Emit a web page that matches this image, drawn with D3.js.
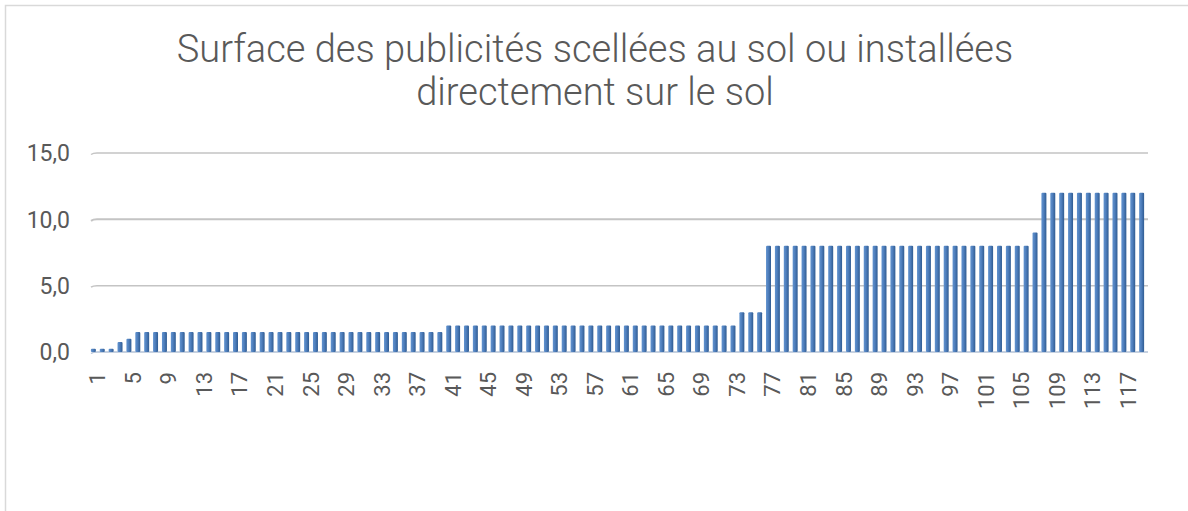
<!doctype html>
<html lang="fr">
<head>
<meta charset="utf-8">
<title>Surface des publicités</title>
<style>
body { margin: 0; background: #fff; font-family: Roboto, "Noto Sans", Arial, sans-serif; }
svg { display: block; }
</style>
</head>
<body>
<svg id="chart" width="1188" height="511"></svg>
<script src="https://cdn.jsdelivr.net/npm/d3@7"></script>
<script>
// one value per panel, sorted by surface (m²)
var values = [
    0.25, 0.25, 0.25, 0.75, 1.0,
    1.5, 1.5, 1.5, 1.5, 1.5, 1.5, 1.5,
    1.5, 1.5, 1.5, 1.5, 1.5, 1.5, 1.5,
    1.5, 1.5, 1.5, 1.5, 1.5, 1.5, 1.5,
    1.5, 1.5, 1.5, 1.5, 1.5, 1.5, 1.5,
    1.5, 1.5, 1.5, 1.5, 1.5, 1.5, 1.5,
    2, 2, 2, 2, 2, 2, 2, 2, 2, 2, 2,
    2, 2, 2, 2, 2, 2, 2, 2, 2, 2, 2,
    2, 2, 2, 2, 2, 2, 2, 2, 2, 2, 2,
    3, 3, 3,
    8, 8, 8, 8, 8, 8, 8, 8, 8, 8,
    8, 8, 8, 8, 8, 8, 8, 8, 8, 8,
    8, 8, 8, 8, 8, 8, 8, 8, 8, 8,
    9,
    12, 12, 12, 12, 12, 12, 12, 12, 12, 12, 12, 12
];
var categories = values.map(function(d, i) { return i + 1; });
var xTickLabels = [1, 5, 9, 13, 17, 21, 25, 29, 33, 37, 41, 45, 49, 53, 57, 61, 65, 69,
                   73, 77, 81, 85, 89, 93, 97, 101, 105, 109, 113, 117];
var yTicks = [0, 5, 10, 15];
var titleLines = ["Surface des publicités scellées au sol ou installées", "directement sur le sol"];

var svg = d3.select("#chart");
var textColor = "#595959";

// chart area border (only left and top visible)
svg.append("rect")
    .attr("x", 5.5).attr("y", 5.5)
    .attr("width", 1200).attr("height", 520)
    .attr("fill", "none")
    .attr("stroke", "#d9d9d9")
    .attr("stroke-width", 1.5);

var x = d3.scaleBand()
    .domain(categories)
    .range([90, 1145])
    .paddingInner(0.44)
    .paddingOuter(0.1);

var y = d3.scaleLinear()
    .domain([0, 15])
    .range([352, 153]);

// gradient for the bars
var defs = svg.append("defs");
var grad = defs.append("linearGradient").attr("id", "barGrad")
    .attr("x1", "0").attr("x2", "1").attr("y1", "0").attr("y2", "0");
grad.append("stop").attr("offset", "0%").attr("stop-color", "#6193cf");
grad.append("stop").attr("offset", "45%").attr("stop-color", "#4f7fbd");
grad.append("stop").attr("offset", "100%").attr("stop-color", "#2f5b91");

// gridlines
var grid = svg.append("g");
yTicks.forEach(function(t) {
    grid.append("path")
        .attr("d", "M91," + (y(t) + 1.5) + " Q93," + y(t) + " 97," + y(t) + " L1148," + y(t))
        .attr("fill", "none")
        .attr("stroke", t === 0 ? "#b4c2d6" : "#c4c4c4")
        .attr("stroke-width", t === 10 ? 2 : 1.5);
});

// y labels
svg.append("g").selectAll("text")
    .data(yTicks)
    .join("text")
    .attr("x", 70)
    .attr("y", function(d) { return y(d); })
    .attr("dy", "0.36em")
    .attr("text-anchor", "end")
    .attr("font-size", 23)
    .attr("fill", textColor)
    .text(function(d) { return d3.format(".1f")(d).replace(".", ","); });

// bars
svg.append("g").selectAll("rect")
    .data(values)
    .join("rect")
    .attr("x", function(d, i) { return x(categories[i]); })
    .attr("width", x.bandwidth())
    .attr("y", function(d) { return y(d); })
    .attr("height", function(d) { return y(0) - y(d); })
    .attr("rx", 1)
    .attr("fill", "url(#barGrad)");

// x labels, rotated
svg.append("g").selectAll("text")
    .data(xTickLabels)
    .join("text")
    .attr("transform", function(d) {
        var cx = x(d) + x.bandwidth() / 2 + 4;
        return "translate(" + cx + ",372) rotate(-90)";
    })
    .attr("dy", "0.36em")
    .attr("text-anchor", "end")
    .attr("font-size", 22)
    .attr("fill", textColor)
    .text(function(d) { return d; });

// title
svg.append("g").selectAll("text")
    .data(titleLines)
    .join("text")
    .attr("x", 595)
    .attr("y", function(d, i) { return 62 + i * 43; })
    .attr("text-anchor", "middle")
    .attr("font-size", 38)
    .attr("font-weight", 300)
    .attr("fill", textColor)
    .text(function(d) { return d; });
</script>
</body>
</html>
